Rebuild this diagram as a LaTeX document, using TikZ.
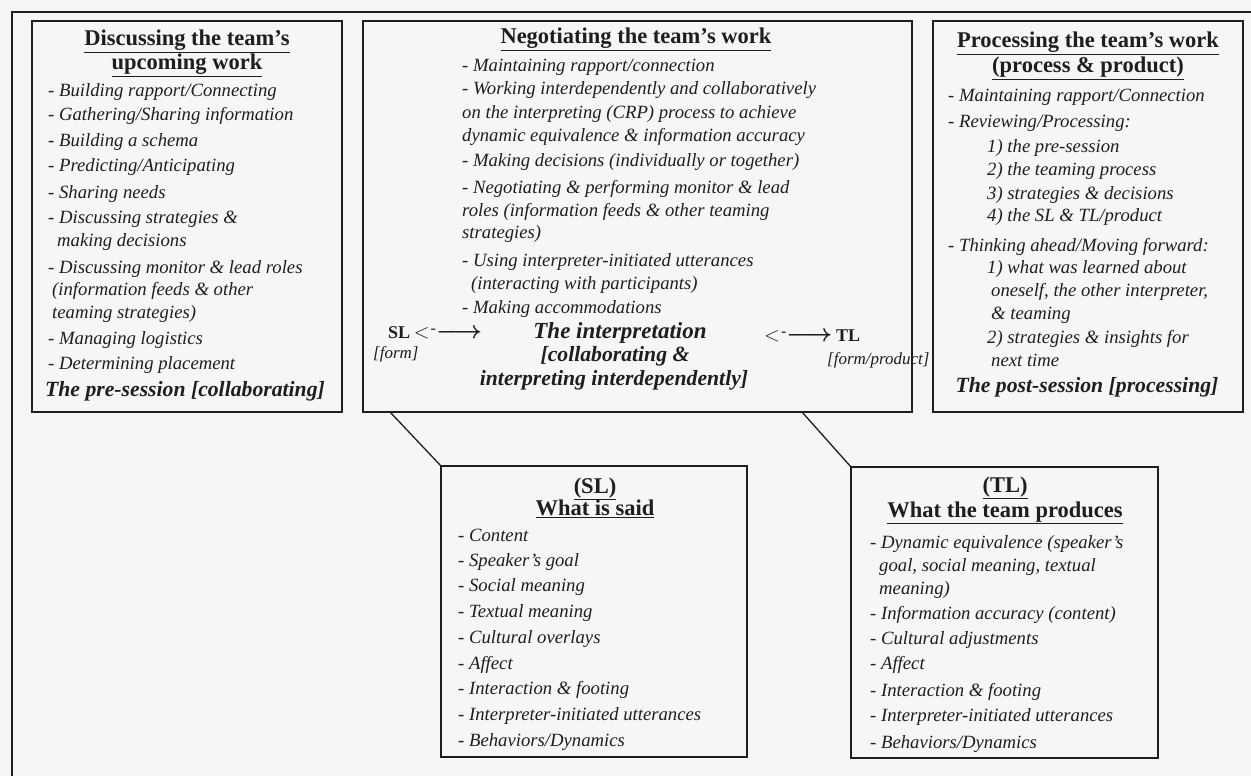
\documentclass[tikz,border=0pt]{standalone}
\usepackage{fontspec}
\setmainfont{Liberation Serif}
\definecolor{paper}{RGB}{246,246,246}
\definecolor{ink}{RGB}{30,30,30}
\newcommand\twoway{{\fontsize{21}{24}\selectfont$<$}\kern1pt\raisebox{5pt}{\fontsize{16}{16}\selectfont -}{\fontsize{23}{24}\selectfont\boldmath$\longrightarrow$}}
\begin{document}
\begin{tikzpicture}[x=1pt,y=-1pt,
  boxnode/.style={draw=ink, line width=1.5pt, rectangle, inner sep=0pt, outer sep=0pt, anchor=north west},
  conn/.style={draw=ink, line width=1.3pt},
  itm/.style={font=\fontsize{18.7}{22}\selectfont\itshape, text=ink, inner sep=0pt, anchor=base west},
  ttl/.style={font=\fontsize{22.5}{26}\selectfont\bfseries, text=ink, inner sep=0pt, anchor=base},
  bitl/.style={font=\fontsize{21.7}{26}\selectfont\bfseries\itshape, text=ink, inner sep=0pt, anchor=base},
  lbl/.style={font=\fontsize{17}{20}\selectfont\itshape, text=ink, inner sep=0pt, anchor=base west},
  arr/.style={font=\fontsize{22}{24}\selectfont, text=ink, inner sep=0pt, anchor=base west}]
\fill[paper] (0,0) rectangle (1251,776);
\useasboundingbox (0,0) rectangle (1251,776);
% outer frame
\draw[ink, line width=1.6pt] (12,776) |- (1251,12);

% boxes
\node[boxnode, minimum width=310, minimum height=391] (b1) at (32,21) {};
\node[boxnode, minimum width=549, minimum height=391] (b2) at (363,21) {};
\node[boxnode, minimum width=310, minimum height=391] (b3) at (933,21) {};
\node[boxnode, minimum width=306, minimum height=291] (sl) at (441,466) {};
\node[boxnode, minimum width=307, minimum height=291] (tl) at (851,467) {};

% connectors
\coordinate (c1) at (390,412);
\coordinate (c2) at (802,412);
\draw[conn] (c1) -- (sl.north west);
\draw[conn] (c2) -- (tl.north west);

% box 1
\node[ttl] (t1a) at (187,46) {\underline{Discussing the team’s}};
\node[ttl] (t1b) at (187,70) {\underline{upcoming work}};
\node[itm] (a1) at (48,96) {- Building rapport/Connecting};
\node[itm] (a2) at (48,121) {- Gathering/Sharing information};
\node[itm] (a3) at (48,146) {- Building a schema};
\node[itm] (a4) at (48,171) {- Predicting/Anticipating};
\node[itm] (a5) at (48,198) {- Sharing needs};
\node[itm] (a6) at (48,223) {- Discussing strategies \&};
\node[itm] (a7) at (57,246) {making decisions};
\node[itm] (a8) at (48,273) {- Discussing monitor \& lead roles};
\node[itm] (a9) at (52,295) {(information feeds \& other};
\node[itm] (a10) at (52,318) {teaming strategies)};
\node[itm] (a11) at (48,344) {- Managing logistics};
\node[itm] (a12) at (48,369) {- Determining placement};
\node[bitl] (a13) at (185,396) {The pre-session [collaborating]};

% box 2
\node[ttl] (t2) at (636,44) {\underline{Negotiating the team’s work}};
\node[itm] (n1) at (462,71) {- Maintaining rapport/connection};
\node[itm] (n2) at (462,95) {- Working interdependently and collaboratively};
\node[itm] (n3) at (462,118) {on the interpreting (CRP) process to achieve};
\node[itm] (n4) at (462,141) {dynamic equivalence \& information accuracy};
\node[itm] (n5) at (462,166) {- Making decisions (individually or together)};
\node[itm] (n6) at (462,193) {- Negotiating \& performing monitor \& lead};
\node[itm] (n7) at (462,216) {roles (information feeds \& other teaming};
\node[itm] (n8) at (462,238) {strategies)};
\node[itm] (n9) at (462,266) {- Using interpreter-initiated utterances};
\node[itm] (n10) at (471,289) {(interacting with participants)};
\node[itm] (n11) at (462,313) {- Making accommodations};
\node[arr] (slarr) at (388,338) {{\fontsize{18}{20}\selectfont\bfseries SL}\,\twoway};
\node[lbl] (slform) at (373,358) {[form]};
\node[bitl, font=\fontsize{23}{26}\selectfont\bfseries\itshape] (interp) at (620,338) {The interpretation};
\node[bitl] (collab) at (615,361) {[collaborating \&};
\node[bitl] (interdep) at (614,385) {interpreting interdependently]};
\node[arr] (tlarr) at (764,341) {\twoway\,{\fontsize{18}{20}\selectfont\bfseries TL}};
\node[lbl] (tlform) at (827,364) {[form/product]};

% box 3
\node[ttl] (t3a) at (1088,48) {\underline{Processing the team’s work}};
\node[ttl] (t3b) at (1088,73) {\underline{(process \& product)}};
\node[itm] (p1) at (948,101) {- Maintaining rapport/Connection};
\node[itm] (p2) at (948,128) {- Reviewing/Processing:};
\node[itm] (p3) at (987,152) {1) the pre-session};
\node[itm] (p4) at (987,175) {2) the teaming process};
\node[itm] (p5) at (987,199) {3) strategies \& decisions};
\node[itm] (p6) at (987,221) {4) the SL \& TL/product};
\node[itm] (p7) at (948,251) {- Thinking ahead/Moving forward:};
\node[itm] (p8) at (987,273) {1) what was learned about};
\node[itm] (p9) at (991,296) {oneself, the other interpreter,};
\node[itm] (p10) at (991,319) {\& teaming};
\node[itm] (p11) at (987,343) {2) strategies \& insights for};
\node[itm] (p12) at (991,366) {next time};
\node[bitl] (p13) at (1087,392) {The post-session [processing]};

% SL box
\node[ttl] (s0a) at (595,493) {\underline{(SL)}};
\node[ttl] (s0b) at (595,515) {\underline{What is said}};
\node[itm] (s1) at (458,541) {- Content};
\node[itm] (s2) at (458,566) {- Speaker’s goal};
\node[itm] (s3) at (458,591) {- Social meaning};
\node[itm] (s4) at (458,617) {- Textual meaning};
\node[itm] (s5) at (458,643) {- Cultural overlays};
\node[itm] (s6) at (458,669) {- Affect};
\node[itm] (s7) at (458,694) {- Interaction \& footing};
\node[itm] (s8) at (458,720) {- Interpreter-initiated utterances};
\node[itm] (s9) at (458,746) {- Behaviors/Dynamics};

% TL box
\node[ttl] (r0a) at (1005,492) {\underline{(TL)}};
\node[ttl] (r0b) at (1005,517) {\underline{What the team produces}};
\node[itm] (r1) at (870,548) {- Dynamic equivalence (speaker’s};
\node[itm] (r2) at (879,571) {goal, social meaning, textual};
\node[itm] (r3) at (879,594) {meaning)};
\node[itm] (r4) at (870,619) {- Information accuracy (content)};
\node[itm] (r5) at (870,644) {- Cultural adjustments};
\node[itm] (r6) at (870,669) {- Affect};
\node[itm] (r7) at (870,696) {- Interaction \& footing};
\node[itm] (r8) at (870,721) {- Interpreter-initiated utterances};
\node[itm] (r9) at (870,748) {- Behaviors/Dynamics};
\end{tikzpicture}
\end{document}
